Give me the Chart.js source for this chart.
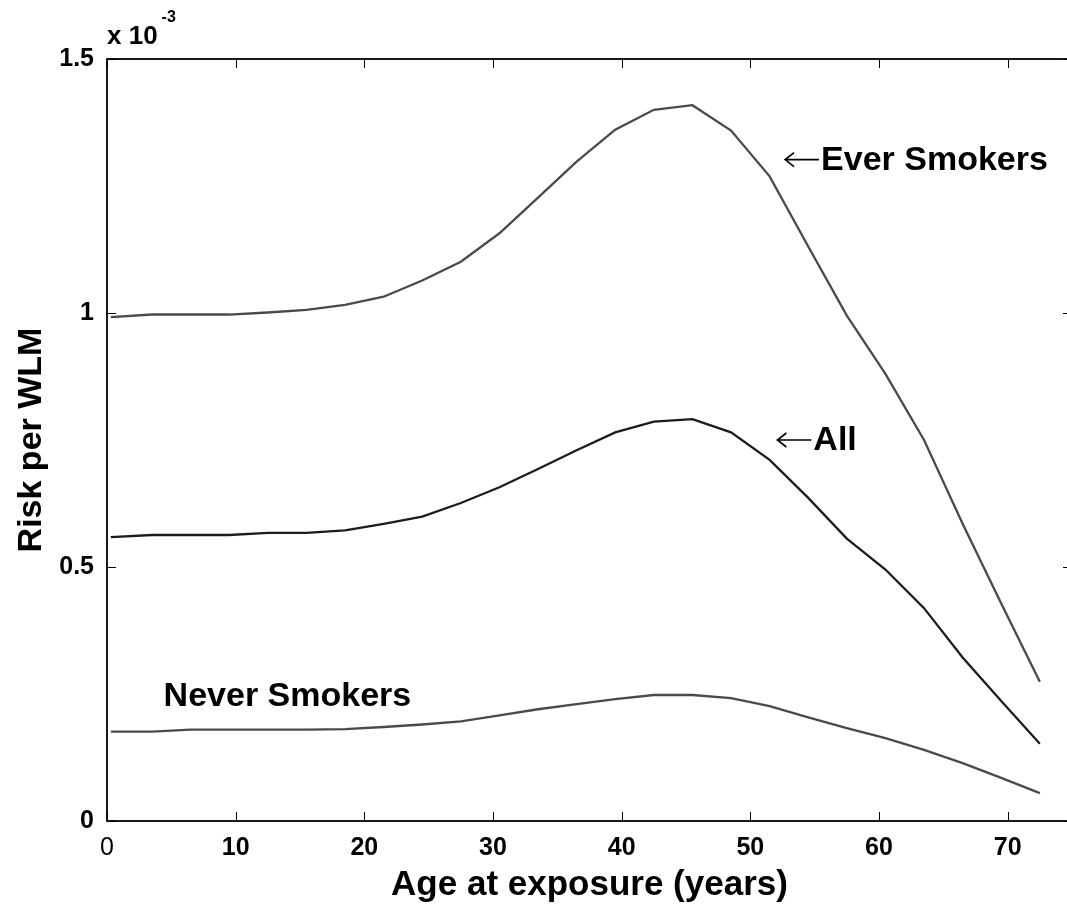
<!DOCTYPE html>
<html>
<head>
<meta charset="utf-8">
<script src="https://cdn.jsdelivr.net/npm/chart.js@4.4.1/dist/chart.umd.min.js"></script>
<style>
  html, body { margin: 0; padding: 0; background: #fff; overflow: hidden; }
  #wrap { width: 1075px; height: 909px; }
</style>
</head>
<body>
<div id="wrap"><canvas id="c" width="1075" height="909"></canvas></div>
<script>
// ages (years) at which the curves are evaluated
var ages = [0.3, 3.5, 6.5, 9.5, 12.5, 15.5, 18.5, 21.5, 24.5, 27.5, 30.5, 33.5, 36.5,
            39.5, 42.5, 45.5, 48.5, 51.5, 54.5, 57.5, 60.5, 63.5, 66.5, 69.5, 72.5];

// risk per WLM, in units of 10^-3
var everSmokers = [0.992, 0.997, 0.997, 0.997, 1.001, 1.006, 1.016, 1.032, 1.064, 1.101, 1.157, 1.227, 1.298,
                   1.361, 1.400, 1.409, 1.359, 1.269, 1.131, 0.995, 0.880, 0.750, 0.585, 0.428, 0.274];
var allPeople = [0.559, 0.563, 0.563, 0.563, 0.567, 0.567, 0.572, 0.585, 0.599, 0.626, 0.657, 0.693, 0.730,
                 0.765, 0.786, 0.791, 0.765, 0.711, 0.636, 0.556, 0.495, 0.419, 0.322, 0.236, 0.152];
var neverSmokers = [0.176, 0.176, 0.180, 0.180, 0.180, 0.180, 0.181, 0.185, 0.190, 0.196, 0.208, 0.220, 0.230,
                    0.240, 0.248, 0.248, 0.242, 0.226, 0.204, 0.183, 0.163, 0.140, 0.114, 0.085, 0.055];

var xTicks = [0, 10, 20, 30, 40, 50, 60, 70];
var yTicks = [0, 0.5, 1, 1.5];

// text labels placed next to the curves (data coordinates)
var curveLabels = [
  { text: 'Ever Smokers', arrow: true, x: 52.7, y: 1.302 },
  { text: 'All', arrow: true, x: 52.1, y: 0.750 },
  { text: 'Never Smokers', arrow: false, x: 4.4, y: 0.246 }
];

function pts(ys) {
  return ages.map(function (a, i) { return { x: a, y: ys[i] }; });
}

var FONT = "'Liberation Sans', Arial, Helvetica, sans-serif";

var boxPlugin = {
  id: 'box',
  afterDraw: function (chart) {
    var ctx = chart.ctx, a = chart.chartArea;
    var xs = chart.scales.x, ys = chart.scales.y;
    ctx.save();
    ctx.strokeStyle = '#000';
    ctx.lineWidth = 1.8;
    ctx.strokeRect(a.left, a.top, a.right - a.left, a.bottom - a.top);
    ctx.lineWidth = 1;
    var tl = 9;
    ctx.beginPath();
    xTicks.forEach(function (v) {
      var px = Math.round(xs.getPixelForValue(v)) + 0.5;
      ctx.moveTo(px, a.bottom); ctx.lineTo(px, a.bottom - tl);
      ctx.moveTo(px, a.top); ctx.lineTo(px, a.top + tl);
    });
    yTicks.forEach(function (v) {
      var py = Math.round(ys.getPixelForValue(v)) + 0.5;
      ctx.moveTo(a.left, py); ctx.lineTo(a.left + tl, py);
      ctx.moveTo(a.right, py); ctx.lineTo(a.right - tl, py);
    });
    ctx.stroke();

    // exponent label above the y axis
    ctx.fillStyle = '#000';
    ctx.textBaseline = 'alphabetic';
    ctx.textAlign = 'left';
    ctx.font = 'bold 26px ' + FONT;
    ctx.fillText('x 10', a.left, 44);
    var w = ctx.measureText('x 10').width;
    ctx.font = 'bold 16px ' + FONT;
    ctx.fillText('-3', a.left + w + 4, 22);

    // curve labels, with a thin left arrow where needed
    ctx.textBaseline = 'middle';
    curveLabels.forEach(function (l) {
      var px = xs.getPixelForValue(l.x), py = ys.getPixelForValue(l.y);
      if (l.arrow) {
        ctx.lineWidth = 1.6;
        ctx.beginPath();
        ctx.moveTo(px, py); ctx.lineTo(px + 34, py);
        ctx.moveTo(px + 9, py - 7); ctx.lineTo(px, py); ctx.lineTo(px + 9, py + 7);
        ctx.stroke();
        px += 36;
      }
      ctx.font = 'bold 34px ' + FONT;
      ctx.fillText(l.text, px, py + 1);
    });
    ctx.restore();
  }
};

function lineSet(label, ys, color) {
  return {
    label: label,
    data: pts(ys),
    borderColor: color,
    backgroundColor: color,
    borderWidth: 2.3,
    pointRadius: 0,
    tension: 0,
    fill: false
  };
}

new Chart(document.getElementById('c'), {
  type: 'line',
  data: {
    datasets: [
      lineSet('Ever Smokers', everSmokers, '#4a4a4a'),
      lineSet('All', allPeople, '#1c1c1c'),
      lineSet('Never Smokers', neverSmokers, '#4a4a4a')
    ]
  },
  options: {
    responsive: false,
    animation: false,
    devicePixelRatio: 1,
    layout: { padding: { top: 59, right: 3, bottom: 0, left: 0 } },
    plugins: { legend: { display: false }, tooltip: { enabled: false } },
    scales: {
      x: {
        type: 'linear',
        min: 0,
        max: 75,
        afterBuildTicks: function (s) { s.ticks = xTicks.map(function (v) { return { value: v }; }); },
        afterFit: function (s) { s.height = 88; },
        grid: { display: false, drawTicks: false },
        border: { display: false },
        ticks: {
          padding: 12,
          color: '#000',
          font: function (c) {
            return { family: FONT, size: 25, weight: (c.tick && c.tick.value === 0) ? 'normal' : 'bold' };
          },
          callback: function (v) { return String(v); }
        },
        title: {
          display: true,
          text: 'Age at exposure (years)',
          color: '#000',
          font: { family: FONT, size: 35, weight: 'bold' },
          padding: { top: 0, bottom: 3 }
        }
      },
      y: {
        type: 'linear',
        min: 0,
        max: 1.5,
        afterBuildTicks: function (s) { s.ticks = yTicks.map(function (v) { return { value: v }; }); },
        afterFit: function (s) { s.width = 107; },
        grid: { display: false, drawTicks: false },
        border: { display: false },
        ticks: {
          padding: 13,
          color: '#000',
          font: { family: FONT, size: 25, weight: 'bold' },
          callback: function (v) { return String(v); }
        },
        title: {
          display: true,
          text: 'Risk per WLM',
          color: '#000',
          font: { family: FONT, size: 34, weight: 'bold' },
          padding: { top: 11, bottom: 0 }
        }
      }
    }
  },
  plugins: [boxPlugin]
});
</script>
</body>
</html>
